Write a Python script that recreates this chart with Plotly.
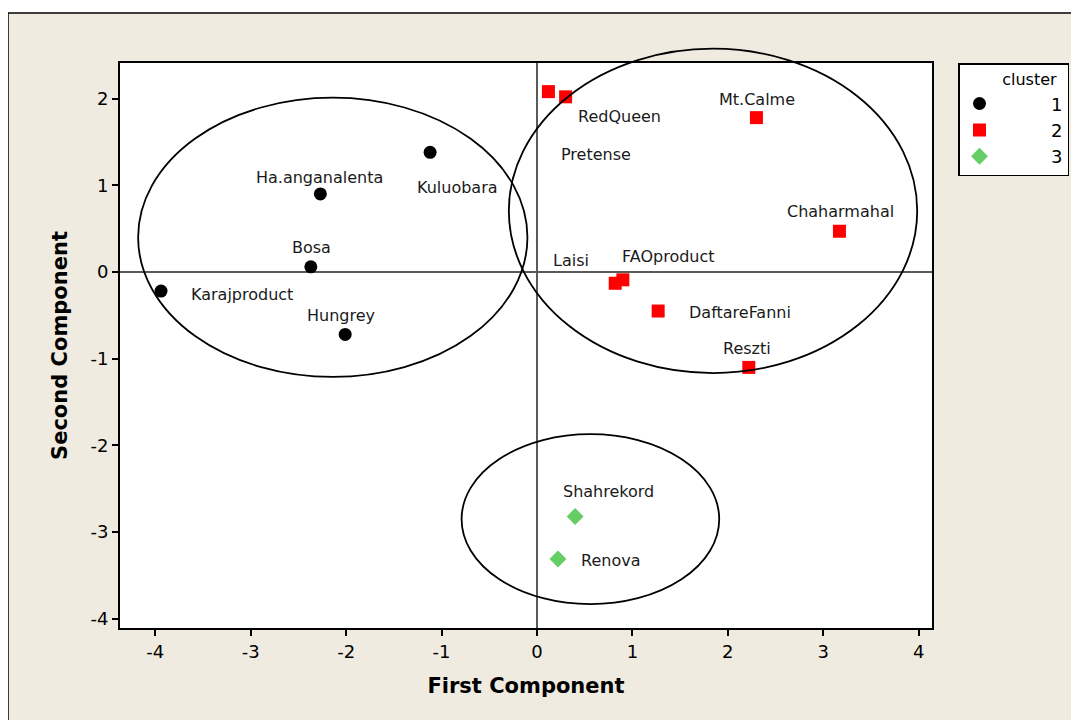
import plotly.graph_objects as go

# ---- data ----
c1_names = ["Karajproduct", "Ha.anganalenta", "Bosa", "Hungrey", "Kuluobara"]
c1_x = [-3.94, -2.27, -2.37, -2.01, -1.12]
c1_y = [-0.22, 0.90, 0.06, -0.72, 1.38]

c2_names = ["Pretense", "RedQueen", "Mt.Calme", "Chaharmahal", "Laisi", "FAOproduct", "DaftareFanni", "Reszti"]
c2_x = [0.12, 0.30, 2.30, 3.17, 0.82, 0.90, 1.27, 2.22]
c2_y = [2.08, 2.02, 1.78, 0.47, -0.13, -0.09, -0.45, -1.10]

c3_names = ["Shahrekord", "Renova"]
c3_x = [0.40, 0.22]
c3_y = [-2.82, -3.31]

# label positions (text placement in data units)
label_text = ["Ha.anganalenta", "Kuluobara", "Bosa", "Karajproduct", "Hungrey",
              "RedQueen", "Pretense", "Mt.Calme", "Chaharmahal", "Laisi",
              "FAOproduct", "DaftareFanni", "Reszti", "Shahrekord", "Renova"]
label_x = [-2.28, -0.83, -2.36, -3.09, -2.05,
           0.86, 0.62, 2.31, 3.18, 0.36,
           1.38, 2.13, 2.20, 0.75, 0.77]
label_y = [1.09, 0.97, 0.28, -0.26, -0.50,
           1.79, 1.35, 1.99, 0.70, 0.13,
           0.18, -0.47, -0.88, -2.53, -3.33]

# cluster ellipses: centre and semi-axes in data units
ell_cx = [-2.14, 1.845, 0.56]
ell_cy = [0.40, 0.705, -2.85]
ell_rx = [2.04, 2.14, 1.35]
ell_ry = [1.61, 1.87, 0.98]

x_range = [-4.37, 4.14]
y_range = [-4.105, 2.41]
x_ticks = [-4, -3, -2, -1, 0, 1, 2, 3, 4]
x_tick_text = ["-4", "-3", "-2", "-1", "0", "1", "2", "3", "4"]
y_ticks = [-4, -3, -2, -1, 0, 1, 2]
y_tick_text = ["-4", "-3", "-2", "-1", "0", "1", "2"]

FONT = "DejaVu Sans"
NB = "\u00a0"
BEIGE = "#EFEBE1"

fig = go.Figure()
fig.add_trace(go.Scatter(x=c1_x, y=c1_y, mode="markers", name=NB * 9 + "1",
                         text=c1_names, hoverinfo="text",
                         marker=dict(symbol="circle", size=13, color="black")))
fig.add_trace(go.Scatter(x=c2_x, y=c2_y, mode="markers", name=NB * 9 + "2",
                         text=c2_names, hoverinfo="text",
                         marker=dict(symbol="square", size=13, color="#FF0000")))
fig.add_trace(go.Scatter(x=c3_x, y=c3_y, mode="markers", name=NB * 9 + "3",
                         text=c3_names, hoverinfo="text",
                         marker=dict(symbol="diamond", size=13, color="#64CD64")))

for t, lx, ly in zip(label_text, label_x, label_y):
    fig.add_annotation(x=lx, y=ly, text=t, showarrow=False,
                       font=dict(family=FONT, size=16, color="#1a1a1a"),
                       xanchor="center", yanchor="middle")

def dx(v):
    return (v - x_range[0]) / (x_range[1] - x_range[0])

def dy(v):
    return (v - y_range[0]) / (y_range[1] - y_range[0])

for cx, cy, rx, ry in zip(ell_cx, ell_cy, ell_rx, ell_ry):
    fig.add_shape(type="circle", xref="x domain", yref="y domain",
                  x0=dx(cx - rx), x1=dx(cx + rx), y0=dy(cy - ry), y1=dy(cy + ry),
                  line=dict(color="black", width=1.8), layer="above")

# page layout (page has an 8px body offset, so positions are shifted by 8)
W, H = 1079, 720
OFF = 8
L, T = 120 - OFF, 63 - OFF
pw, ph = 812, 565
R, B = W - L - pw, H - T - ph

def px_x(p):
    return (p - OFF - L) / pw

def px_y(p):
    return (H - B - (p - OFF)) / ph

# white strips outside the beige frame, and frame lines
fig.add_shape(type="rect", xref="paper", yref="paper",
              x0=px_x(-20), x1=px_x(W + 20), y0=px_y(13), y1=px_y(-20),
              fillcolor="white", line=dict(width=0), layer="below")
fig.add_shape(type="rect", xref="paper", yref="paper",
              x0=px_x(-20), x1=px_x(8), y0=px_y(H + 20), y1=px_y(-20),
              fillcolor="white", line=dict(width=0), layer="below")
fig.add_shape(type="line", xref="paper", yref="paper",
              x0=px_x(8), x1=px_x(W + 20), y0=px_y(13), y1=px_y(13),
              line=dict(color="black", width=1.5), layer="below")
fig.add_shape(type="line", xref="paper", yref="paper",
              x0=px_x(8), x1=px_x(8), y0=px_y(13), y1=px_y(H + 20),
              line=dict(color="black", width=1.5), layer="below")

axis_common = dict(showline=True, linecolor="black", linewidth=2, mirror=True,
                   ticks="outside", ticklen=6, tickwidth=1.5, tickcolor="black",
                   showgrid=False, zeroline=True, zerolinecolor="#5a5a5a", zerolinewidth=1.5,
                   tickfont=dict(family=FONT, size=18, color="black"))

fig.update_xaxes(range=x_range, tickvals=x_ticks, ticktext=x_tick_text, **axis_common,
                 title=dict(text="First Component", standoff=18,
                            font=dict(family=FONT, size=21, color="black", weight="bold")))
fig.update_yaxes(range=y_range, tickvals=y_ticks, ticktext=y_tick_text, **axis_common,
                 title=dict(text="Second Component", standoff=17,
                            font=dict(family=FONT, size=21, color="black", weight="bold")))

fig.update_layout(
    width=W, height=H,
    margin=dict(l=L, r=R, t=T, b=B, autoexpand=False),
    paper_bgcolor=BEIGE, plot_bgcolor="white",
    showlegend=True,
    legend=dict(x=px_x(958), y=1.0, xanchor="left", yanchor="top",
                bgcolor="white", bordercolor="black", borderwidth=1.5,
                font=dict(family=FONT, size=18, color="black"),
                title=dict(text=NB * 8 + "cluster", font=dict(family=FONT, size=16, color="black"))),
)

fig.write_html("out.html")
